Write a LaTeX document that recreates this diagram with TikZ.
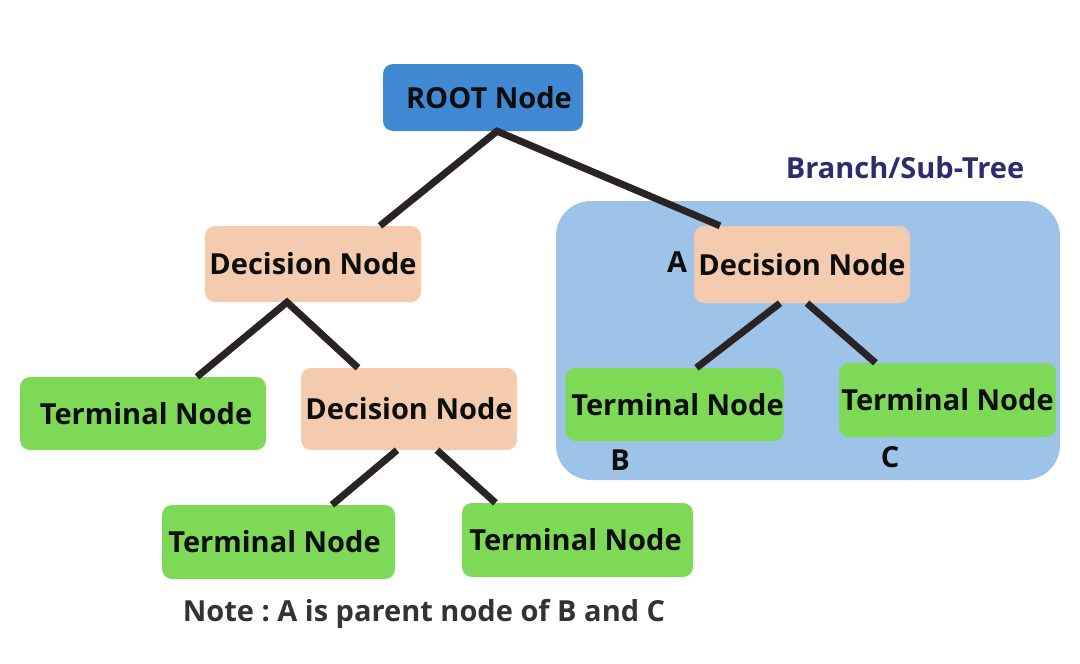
\documentclass[tikz,border=0pt]{standalone}
\usepackage{fontspec}
\setmainfont{Open Sans}
\definecolor{rootblue}{HTML}{4189D2}
\definecolor{decpeach}{HTML}{F4CBAF}
\definecolor{termgreen}{HTML}{7ED957}
\definecolor{subblue}{HTML}{9DC4E8}
\definecolor{edgegray}{HTML}{2A2324}
\definecolor{subnavy}{HTML}{2D2D6E}
\definecolor{notegray}{HTML}{333333}
\frenchspacing

\begin{document}
\begin{tikzpicture}[x=1pt,y=-1pt,
    lbl/.style={inner sep=0pt,font=\fontsize{29}{34}\selectfont\bfseries,text=black!95},
    box/.style={lbl,rounded corners=10pt},
    rootbox/.style={box,fill=rootblue,minimum width=200pt,minimum height=67pt},
    decbox/.style={box,fill=decpeach,minimum width=216pt,minimum height=76pt},
    termbox/.style={box,fill=termgreen,minimum width=217pt,minimum height=73pt},
    edge/.style={draw=edgegray,line width=7pt}]
  \useasboundingbox (0,0) rectangle (1080,664);
  \node (sub) at (808,340.5) [fill=subblue,rounded corners=35pt,minimum width=504pt,minimum height=279pt] {};
  \node (subtitle) at (905,168) [lbl,text=subnavy] {Branch/Sub-Tree};
  \node (root) at (483,97.5) [rootbox] {\hspace*{12pt}ROOT Node};
  \node (decl) at (313,264) [decbox] {Decision Node};
  \node (deca) at (802,264.5) [decbox,minimum height=77pt] {Decision Node};
  \node (terml) at (143,413.5) [termbox,minimum width=246pt] {\hspace*{6pt}Terminal Node};
  \node (decm) at (409,409) [decbox,minimum height=82pt] {Decision Node};
  \node (termb) at (674.5,404.5) [termbox] {\hspace*{6pt}Terminal Node};
  \node (termc) at (947.5,400) [termbox,minimum height=74pt] {Terminal Node};
  \node (termbl) at (278.5,542) [termbox,minimum width=233pt,minimum height=74pt] {Terminal Node\hspace*{8pt}};
  \node (termbr) at (577.5,540) [termbox,minimum width=231pt,minimum height=74pt] {Terminal Node\hspace*{4pt}};
  \node (la) at (677,262) [lbl] {A};
  \node (lb) at (620,460) [lbl] {B};
  \node (lc) at (890,457) [lbl] {C};
  \node (note) at (424,614) [lbl,text=notegray] {Note : A is parent node of B and C};
  \draw[edge] ([xshift=67pt]decl.north) -- ([xshift=14pt]root.south) -- ([xshift=-82pt]deca.north);
  \draw[edge] ([xshift=54pt]terml.north) -- ([xshift=-26pt]decl.south) -- ([xshift=-51pt]decm.north);
  \draw[edge] ([xshift=53.5pt]termbl.north) -- ([xshift=-12pt]decm.south);
  \draw[edge] ([xshift=28pt]decm.south) -- ([xshift=-82pt]termbr.north);
  \draw[edge] ([xshift=22pt]termb.north) -- ([xshift=-22pt]deca.south);
  \draw[edge] ([xshift=5pt]deca.south) -- ([xshift=-72pt]termc.north);
\end{tikzpicture}
\end{document}
